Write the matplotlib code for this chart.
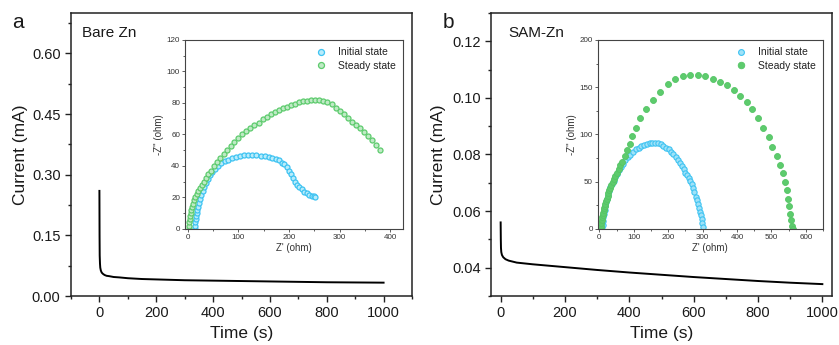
import matplotlib
matplotlib.use("Agg")
import matplotlib.pyplot as plt
from matplotlib.ticker import MultipleLocator, AutoMinorLocator

plt.rcParams["font.family"] = ["Liberation Sans", "DejaVu Sans"]

W, H = 839, 345

# chronoamperometry, bare Zn
time_a = [0, 0.5, 1, 2, 3, 5, 8, 12, 18, 25, 35, 50, 70, 100, 150, 200,
          300, 400, 500, 600, 700, 800, 900, 1000]
curr_a = [0.26, 0.15, 0.10, 0.08, 0.07, 0.063, 0.058, 0.055, 0.052, 0.050,
          0.049, 0.047, 0.046, 0.044, 0.042, 0.041, 0.039, 0.038, 0.037,
          0.036, 0.035, 0.034, 0.0335, 0.033]

# chronoamperometry, SAM-Zn
time_b = [0, 0.5, 1, 2, 4, 8, 15, 25, 50, 100, 200, 300, 400, 500, 600,
          700, 800, 900, 1000]
curr_b = [0.056, 0.050, 0.047, 0.0455, 0.0445, 0.0437, 0.043, 0.0425,
          0.0418, 0.0412, 0.0402, 0.0392, 0.0383, 0.0375, 0.0367, 0.036,
          0.0353, 0.0347, 0.0342]

# Nyquist, bare Zn
za_init_re = [14, 14.5, 15, 16, 17, 18, 19.5, 21, 23, 25, 27.5, 30, 33, 36,
              40, 44, 49, 54, 60, 66, 73, 80, 88, 96, 104, 112, 120, 128,
              136, 144, 152, 160, 167, 174, 180, 186, 191, 196, 200, 204,
              208, 212, 216, 220, 225, 230, 235, 240, 245, 249, 252]
za_init_im = [0, 2, 4, 6, 8, 10, 12, 14, 16.5, 19, 21.5, 24, 26.5, 29, 31.5,
              34, 36, 38, 40, 41.5, 43, 44, 45, 45.8, 46.3, 46.7, 47, 47,
              46.8, 46.5, 46, 45.5, 45, 44.5, 43.5, 42, 41, 39.5, 37, 34.5,
              32, 30, 28, 26.5, 25, 23.5, 22.5, 21.7, 21, 20.5, 20]
za_st_re = [2, 2.5, 3, 4, 5, 6, 7.5, 9, 11, 13, 15.5, 18, 21, 24, 28, 32,
            36, 41, 46, 52, 58, 64, 71, 78, 85, 92, 100, 108, 116, 124, 132,
            140, 148, 156, 164, 172, 180, 188, 196, 204, 212, 220, 228, 236,
            244, 252, 260, 268, 276, 284, 292, 300, 308, 316, 324, 332, 340,
            348, 356, 364, 372, 380]
za_st_im = [0, 2, 4, 6, 8, 10, 12, 14, 16, 18, 20, 22, 24, 26, 28, 30, 32,
            34.5, 37, 40, 42.5, 45, 47.5, 50, 52.5, 55, 57.5, 60, 62, 64, 66,
            67.5, 69.5, 71, 73, 74.5, 75.5, 76.5, 77.5, 78.5, 79.5, 80.5, 81,
            81.5, 82, 82, 82, 81.5, 80.5, 79, 77, 75, 73, 70.5, 68, 66, 64,
            61.5, 59, 56.5, 53.5, 50]

# Nyquist, SAM-Zn
zb_init_re = [8, 9, 10, 11.5, 13, 15, 17, 19.5, 22, 25, 28.5, 32, 36, 41,
              46, 51, 56, 62, 68, 75, 82, 90, 98, 106, 114, 122, 130, 138,
              146, 154, 162, 170, 178, 186, 194, 201, 208, 215, 222, 228,
              234, 240, 245, 250, 255, 260, 264, 268, 272, 276, 280, 283,
              286, 289, 292, 294.5, 297, 299, 301]
zb_init_im = [0, 4, 8, 12, 16, 20, 24, 28, 32, 36, 40, 44, 47.5, 51, 55,
              58.5, 62, 65.5, 69, 72.5, 75.5, 78.5, 81.5, 84, 86, 87.5, 89,
              90, 90.5, 91, 91, 90.5, 89.5, 88, 86, 84, 81.5, 79, 76, 73, 70,
              66.5, 63, 59.5, 56.5, 54, 51, 47.5, 43.5, 39, 34, 30, 26, 22,
              18, 14, 10, 6, 2]
zb_st_re = [4, 5, 6, 7, 8, 9, 10.5, 12, 13.5, 15, 17, 19, 21, 23.5, 26, 29,
            32, 35, 38.5, 42, 46, 51, 56, 61, 66, 73, 80, 88, 95, 105, 119,
            136, 156, 177, 198, 220, 243, 264, 286, 307, 329, 351, 372, 391,
            409, 428, 445, 462, 476, 493, 502, 515, 525, 533, 540, 545, 549,
            552, 555, 557.5, 560, 562]
zb_st_im = [0, 3, 6, 9, 12, 14.5, 17, 19.5, 22, 24, 26.5, 29, 31.5, 34.5,
            37.5, 40.5, 43.5, 46.5, 49.5, 52.5, 55.5, 59.5, 63.5, 67.5, 71,
            77, 83, 90, 98, 107, 117, 126.5, 136, 145, 153, 158.7, 162, 163,
            163, 162, 159, 156, 152, 147, 141, 134.6, 126.5, 117, 107, 97,
            87, 77, 67.5, 58.7, 50, 41, 32, 24, 16, 9, 3, 0]

BLUE = "#3ec3f2"
GREEN = "#5dcb6d"
TXT = "#1a1a1a"


def box(l, r, t, b):
    return [l / W, (H - b) / H, (r - l) / W, (b - t) / H]


def style_main(ax):
    for s in ax.spines.values():
        s.set_linewidth(1.1)
        s.set_color("#222222")
    ax.tick_params(which="both", direction="out", top=False, right=False,
                   width=1.0, colors="#222222", labelsize=10.5,
                   labelcolor=TXT)
    ax.tick_params(which="major", length=4)
    ax.tick_params(which="minor", length=2.5)
    ax.xaxis.set_minor_locator(AutoMinorLocator(2))
    ax.yaxis.set_minor_locator(AutoMinorLocator(2))


def style_inset(ax):
    for s in ax.spines.values():
        s.set_linewidth(0.8)
        s.set_color("#444444")
    ax.tick_params(which="both", direction="out", top=False, right=False,
                   width=0.6, colors="#444444", labelsize=5.8,
                   labelcolor="#333333", pad=1.5)
    ax.tick_params(which="major", length=2)
    ax.tick_params(which="minor", length=1.2)
    ax.xaxis.set_minor_locator(AutoMinorLocator(2))
    ax.yaxis.set_minor_locator(AutoMinorLocator(2))
    ax.set_xlabel("Z' (ohm)", fontsize=7, color="#333333", labelpad=2)
    ax.set_ylabel("-Z'' (ohm)", fontsize=7, color="#333333", labelpad=2)


fig = plt.figure(figsize=(W / 100, H / 100), dpi=100)

# panel a
ax1 = fig.add_axes(box(71, 412, 13, 296))
ax1.plot(time_a, curr_a, color="black", lw=1.4)
ax1.set_xlim(-100, 1100)
ax1.set_ylim(0, 0.70)
ax1.set_xticks([0, 200, 400, 600, 800, 1000])
ax1.set_yticks([0.00, 0.15, 0.30, 0.45, 0.60])
ax1.set_yticklabels(["0.00", "0.15", "0.30", "0.45", "0.60"])
style_main(ax1)
ax1.set_xlabel("Time (s)", fontsize=12.5, color=TXT, labelpad=4)
ax1.set_ylabel("Current (mA)", fontsize=12.5, color=TXT, labelpad=3)
ax1.text(0.032, 0.93, "Bare Zn", transform=ax1.transAxes, fontsize=11,
         color=TXT, va="center")
fig.text(12 / W, 1 - 23 / H, "a", fontsize=15, color=TXT, va="center")

in1 = fig.add_axes(box(185, 403, 40, 228.7))
in1.plot(za_init_re, za_init_im, "o", ms=3.6, mfc="#b8ecfb", mec=BLUE,
         mew=0.9, label="Initial state")
in1.plot(za_st_re, za_st_im, "o", ms=3.6, mfc="#bfeac5", mec=GREEN,
         mew=0.9, label="Steady state")
in1.set_xlim(-5, 425)
in1.set_ylim(0, 120)
in1.xaxis.set_major_locator(MultipleLocator(100))
in1.yaxis.set_major_locator(MultipleLocator(20))
style_inset(in1)
in1.legend(loc="upper right", fontsize=7.5, frameon=False, handlelength=0.8,
           handletextpad=1.2, borderaxespad=0.3, labelspacing=0.35,
           markerscale=1.2, labelcolor="#222222")

# panel b
ax2 = fig.add_axes(box(491, 832, 13, 296))
ax2.plot(time_b, curr_b, color="black", lw=1.4)
ax2.set_xlim(-30, 1030)
ax2.set_ylim(0.03, 0.13)
ax2.set_xticks([0, 200, 400, 600, 800, 1000])
ax2.set_yticks([0.04, 0.06, 0.08, 0.10, 0.12])
ax2.set_yticklabels(["0.04", "0.06", "0.08", "0.10", "0.12"])
style_main(ax2)
ax2.set_xlabel("Time (s)", fontsize=12.5, color=TXT, labelpad=4)
ax2.set_ylabel("Current (mA)", fontsize=12.5, color=TXT, labelpad=4)
ax2.text(0.05, 0.93, "SAM-Zn", transform=ax2.transAxes, fontsize=11,
         color=TXT, va="center")
fig.text(443 / W, 1 - 23 / H, "b", fontsize=15, color=TXT, va="center")

in2 = fig.add_axes(box(597.7, 823, 40, 228.7))
in2.plot(zb_init_re, zb_init_im, "o", ms=3.8, mfc="#9fe2f8", mec=BLUE,
         mew=0.8, label="Initial state")
in2.plot(zb_st_re, zb_st_im, "o", ms=4.3, mfc=GREEN, mec="#55c565",
         mew=0.6, label="Steady state")
in2.set_xlim(-5, 650)
in2.set_ylim(0, 200)
in2.xaxis.set_major_locator(MultipleLocator(100))
in2.yaxis.set_major_locator(MultipleLocator(50))
style_inset(in2)
in2.legend(loc="upper right", fontsize=7.5, frameon=False, handlelength=0.8,
           handletextpad=1.2, borderaxespad=0.3, labelspacing=0.35,
           markerscale=1.1, labelcolor="#222222")

fig.savefig("out.png", dpi=100)
